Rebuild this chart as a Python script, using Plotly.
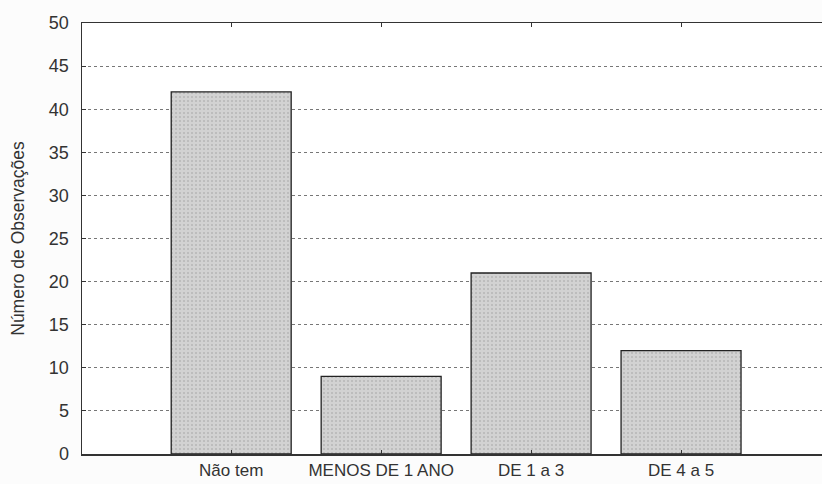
import plotly.graph_objects as go

categories = ["Não tem", "MENOS DE 1 ANO", "DE 1 a 3", "DE 4 a 5"]
values = [42, 9, 21, 12]
positions = [1, 2, 3, 4]
y_ticks = [0, 5, 10, 15, 20, 25, 30, 35, 40, 45, 50]

fig = go.Figure()
fig.add_trace(go.Bar(
    x=positions, y=values, width=0.8,
    marker=dict(color="#cdcdcd", line=dict(color="#222", width=1.3),
                pattern=dict(shape=".", fgcolor="#9a9a9a", bgcolor="#d2d2d2", size=4, solidity=0.2)),
))

font = dict(family="Liberation Sans, Arial, sans-serif", size=17, color="#333")
fig.update_layout(
    width=822, height=484,
    margin=dict(l=82, r=0, t=23, b=30),
    paper_bgcolor="#fcfcfc", plot_bgcolor="#ffffff",
    font=font, showlegend=False, bargap=0,
    xaxis=dict(range=[0.005, 4.94], tickvals=positions, ticktext=categories, automargin=False,
               showline=True, linecolor="#333", linewidth=1.5, mirror="ticks",
               ticks="inside", ticklen=4, tickcolor="#333", showgrid=False, zeroline=False,
               tickfont=dict(size=17)),
    yaxis=dict(range=[0, 50], tickvals=y_ticks, showline=True, linecolor="#333", linewidth=1.5,
               ticks="inside", ticklen=4, tickcolor="#333", automargin=False, mirror=False,
               tickfont=dict(size=18), ticklabelstandoff=8,
               showgrid=True, gridcolor="#777", griddash="dot", gridwidth=1, zeroline=False,
               title=dict(text="Número de Observações", font=dict(size=17.5, color="#333"), standoff=19)),
)
fig.write_html("out.html", config={"displayModeBar": False, "staticPlot": True},
               post_script="document.body.style.margin='0px';document.body.style.overflow='hidden';"
                           "document.documentElement.style.overflow='hidden';"
                           "window.dispatchEvent(new Event('resize'));")
